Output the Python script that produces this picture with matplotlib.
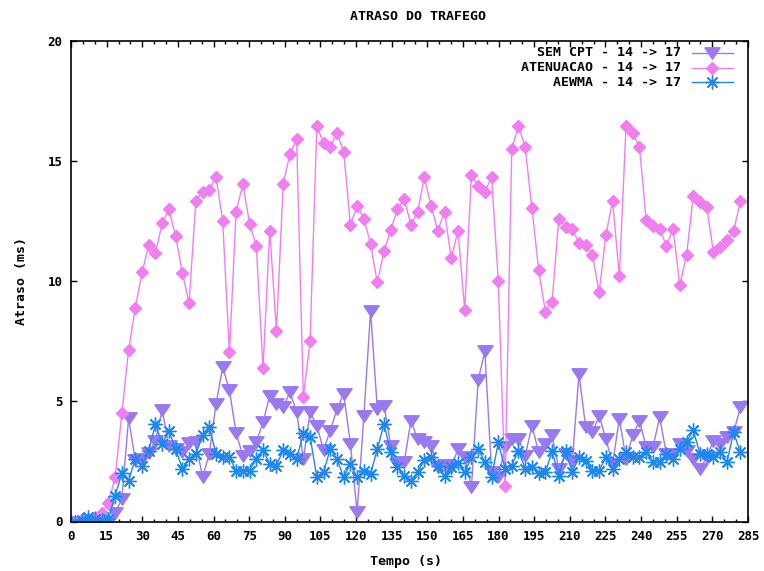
import numpy as np
import matplotlib
matplotlib.use("Agg")
import matplotlib.pyplot as plt
from matplotlib.lines import Line2D
from matplotlib.ticker import MultipleLocator

# ---- data ----
t_start = 1.6
t_step = 2.83
n_points = 100

sem_cpt = [0, 0, 0.05, 0, 0, 0, 0.35, 0.94, 4.3, 2.54,
           2.6, 2.85, 3.37, 4.64, 3.16, 3.02, 2.88, 3.26, 3.3, 1.84,
           2.81, 4.89, 6.42, 5.47, 3.67, 2.74, 2.95, 3.3, 4.13, 5.24,
           4.89, 4.75, 5.4, 4.55, 2.61, 4.55, 3.99, 2.98, 3.78, 4.68,
           5.31, 3.23, 0.39, 4.41, 8.77, 4.68, 4.82, 3.16, 2.4, 2.47,
           4.2, 3.44, 3.3, 3.16, 2.26, 2.35, 2.26, 3.02, 2.67, 1.43,
           5.89, 7.08, 2.05, 1.84, 3.1, 3.44, 3.44, 2.74, 3.99, 2.88,
           3.23, 3.58, 2.19, 2.8, 2.5, 6.14, 3.92, 3.71, 4.41, 3.44,
           2.4, 4.27, 2.61, 3.58, 4.2, 3.09, 3.09, 4.34, 2.81, 2.81,
           3.23, 2.95, 2.6, 2.19, 2.67, 3.37, 3.23, 3.5, 3.71, 4.75]

atenuacao = [0, 0.05, 0.1, 0.2, 0.35, 0.75, 1.84, 4.5, 7.14, 8.88,
             10.37, 11.49, 11.16, 12.42, 12.99, 11.88, 10.35, 9.09, 13.32, 13.72,
             13.79, 14.36, 12.5, 7.04, 12.9, 14.04, 12.4, 11.46, 6.38, 12.1,
             7.94, 14.04, 15.29, 15.91, 5.2, 7.5, 16.47, 15.74, 15.59, 16.19,
             15.38, 12.34, 13.14, 12.61, 11.55, 9.95, 11.24, 12.13, 13.0, 13.42,
             12.35, 12.9, 14.32, 13.14, 12.1, 12.9, 10.95, 12.1, 8.81, 14.43,
             13.97, 13.72, 14.35, 9.99, 1.46, 15.5, 16.47, 15.57, 13.03, 10.48,
             8.73, 9.15, 12.61, 12.27, 12.17, 11.59, 11.5, 11.09, 9.54, 11.93,
             13.35, 10.2, 16.47, 16.19, 15.59, 12.54, 12.31, 12.17, 11.48, 12.17,
             9.84, 11.09, 13.56, 13.28, 13.07, 11.23, 11.41, 11.71, 12.1, 13.32]

aewma = [0, 0.05, 0.2, 0.12, 0.05, 0.1, 1.08, 2.01, 1.7, 2.61,
         2.29, 2.95, 4.06, 3.23, 3.78, 3.02, 2.19, 2.61, 2.81, 3.58,
         3.95, 2.81, 2.67, 2.67, 2.12, 2.12, 2.12, 2.61, 2.98, 2.4,
         2.33, 2.98, 2.81, 2.61, 3.67, 3.53, 1.84, 2.05, 3.02, 2.61,
         1.84, 2.4, 1.84, 2.12, 1.98, 3.02, 4.06, 2.88, 2.26, 1.91,
         1.7, 2.05, 2.56, 2.67, 2.29, 1.88, 2.26, 2.43, 2.05, 2.67,
         3.02, 2.47, 1.84, 3.3, 2.19, 2.33, 2.95, 2.19, 2.26, 2.01,
         2.05, 2.92, 1.91, 2.92, 2.05, 2.67, 2.53, 2.12, 2.12, 2.67,
         2.19, 2.61, 2.88, 2.67, 2.67, 2.88, 2.47, 2.47, 2.81, 2.61,
         3.02, 3.3, 3.81, 2.81, 2.81, 2.67, 2.88, 2.47, 3.71, 2.88]

labels = ["SEM CPT - 14 -> 17", "ATENUACAO - 14 -> 17", "AEWMA - 14 -> 17"]
title = "ATRASO DO TRAFEGO"
xlabel = "Tempo (s)"
ylabel = "Atraso (ms)"
xticks = list(range(0, 286, 15))
yticks = [0, 5, 10, 15, 20]

time = t_start + t_step * np.arange(n_points)

# ---- style ----
c_purple = "#9a78f0"
c_pink = "#f07ef0"
c_blue = "#1a88f0"
FONT = dict(family="DejaVu Sans Mono", weight="bold", size=9.5)

W, H = 764, 571
fig = plt.figure(figsize=(W / 100, H / 100), dpi=100)
L, R, T, B = 71, 748, 41, 521.5
ax = fig.add_axes([L / W, 1 - B / H, (R - L) / W, (B - T) / H])

tri_down = [(-1, 0.75), (1, 0.75), (0, -0.75), (-1, 0.75)]
star = (8, 2, 0)
series = [
    (sem_cpt, c_purple, tri_down, 11, dict()),
    (atenuacao, c_pink, "D", 6, dict()),
    (aewma, c_blue, star, 10, dict(markeredgewidth=1.0)),
]
for vals, col, mk, ms, extra in series:
    ax.plot(time, vals, color=col, lw=1.0, marker=mk, markersize=ms,
            markerfacecolor=col, markeredgecolor=col, **extra)

ax.set_xlim(0, 285)
ax.set_ylim(0, 20)
ax.set_xticks(xticks)
ax.set_yticks(yticks)
ax.xaxis.set_minor_locator(MultipleLocator(5))
ax.tick_params(axis="both", which="major", direction="in", length=4.5, width=1,
               top=True, right=True, pad=6, labelsize=9)
ax.tick_params(axis="x", which="minor", direction="in", length=2.5, width=1,
               top=True, bottom=True)
for lab in ax.get_xticklabels() + ax.get_yticklabels():
    lab.set_fontfamily("DejaVu Sans Mono")
    lab.set_fontweight("bold")
for s in ax.spines.values():
    s.set_linewidth(1.2)

fig.text(418 / W, 1 - 16 / H, title, ha="center", va="center", **FONT)
fig.text(406 / W, 1 - 562 / H, xlabel, ha="center", va="center", **FONT)
fig.text(22 / W, 1 - 281 / H, ylabel, ha="center", va="center", rotation=90, **FONT)

# legend (manual, right-aligned text like gnuplot)
rows_y = [53, 67.5, 82]
for (vals, col, mk, ms, extra), lab, yy in zip(series, labels, rows_y):
    yf = 1 - yy / H
    fig.text(681 / W, yf, lab, ha="right", va="center", **FONT)
    fig.add_artist(Line2D([692 / W, 733 / W], [yf, yf], color=col, lw=1.0,
                          transform=fig.transFigure))
    fig.add_artist(Line2D([712 / W], [yf], color=col, marker=mk, markersize=ms,
                          markerfacecolor=col, markeredgecolor=col, lw=0,
                          transform=fig.transFigure, **extra))

fig.savefig("out.png", dpi=100)
